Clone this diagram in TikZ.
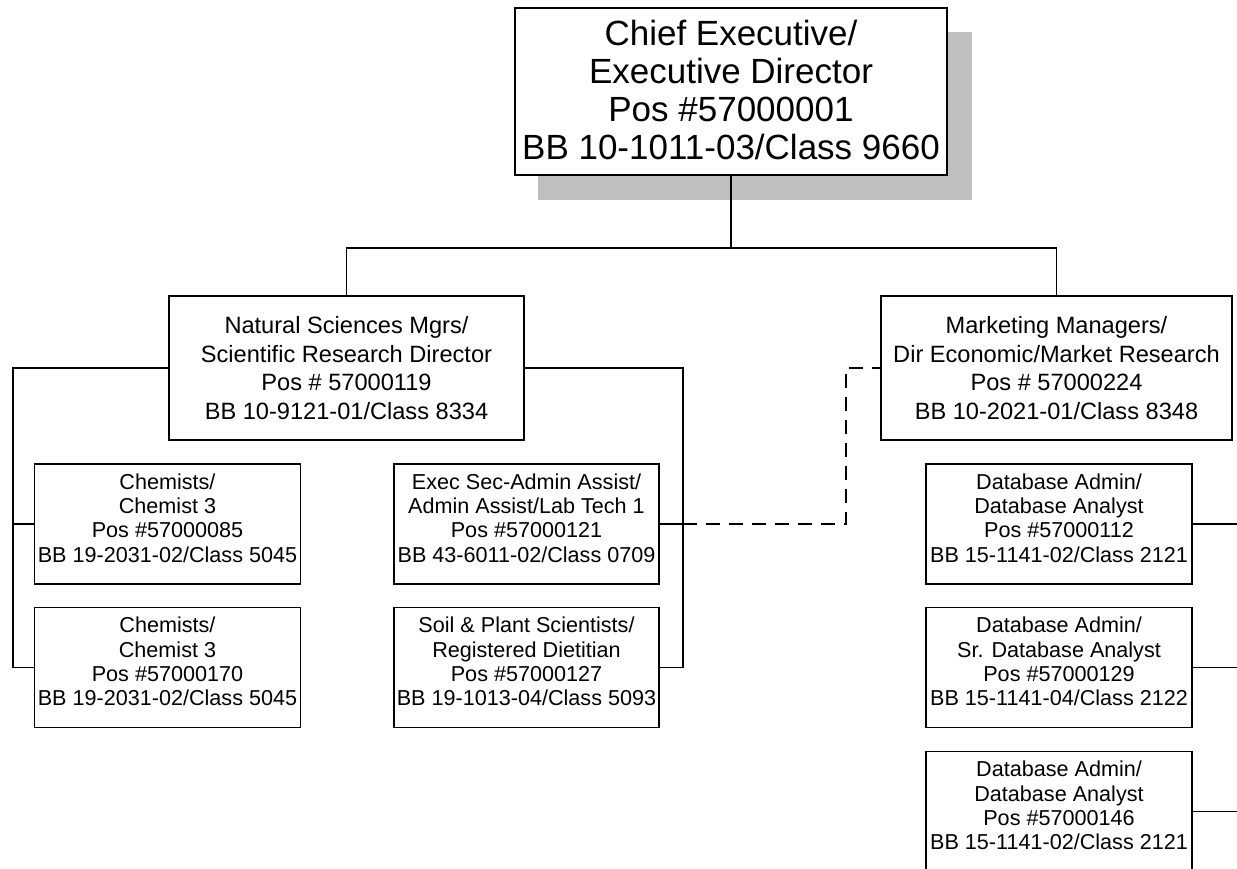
\documentclass[tikz,border=0pt]{standalone}
\usepackage{fontspec}
\setmainfont{Liberation Sans}
\begin{document}
\begin{tikzpicture}[x=1pt,y=-1pt,
  box/.style={draw,line width=1.6pt,fill=white,inner sep=0pt},
  topbox/.style={box,minimum width=432pt,minimum height=167pt},
  midbox/.style={box,minimum width=355pt,minimum height=144pt},
  smallbox/.style={box,minimum width=266pt,minimum height=120pt},
  toptext/.style={align=center,inner sep=0pt,yshift=2pt,font=\fontsize{35}{38}\selectfont},
  midtext/.style={align=center,inner sep=0pt,font=\fontsize{23.6}{28.5}\selectfont},
  smalltext/.style={align=center,inner sep=0pt,yshift=6pt,font=\fontsize{21.6}{24.3}\selectfont},
  link/.style={line width=1.6pt},
  dotlink/.style={line width=1.6pt,dash pattern=on 14pt off 9pt}]
\useasboundingbox (0,0) rectangle (1237,869);
% shadow behind the top box
\fill[gray!50] (538,32) rectangle (972,200);
% boxes
\node[topbox] (ceo) at (731,91.5) {};
\node[midbox] (nsm) at (346.5,368) {};
\node[midbox,minimum width=351pt] (mkt) at (1056.5,368) {};
\node[smallbox] (chem1) at (167.5,524) {};
\node[smallbox] (chem2) at (167.5,667.5) {};
\node[smallbox,minimum width=265pt] (exec) at (526.5,524) {};
\node[smallbox,minimum width=265pt] (soil) at (526.5,667.5) {};
\node[smallbox] (db1) at (1059,524) {};
\node[smallbox] (db2) at (1059,667.5) {};
\node[smallbox] (db3) at (1059,811.5) {};
% box texts
\node[toptext] (ceo-t) at (ceo.center) {Chief Executive/\\Executive Director\\Pos \#57000001\\BB 10-1011-03/Class 9660};
\node[midtext] (nsm-t) at (nsm.center) {Natural Sciences Mgrs/\\Scientific Research Director\\Pos \# 57000119\\BB 10-9121-01/Class 8334};
\node[midtext] (mkt-t) at (mkt.center) {Marketing Managers/\\Dir Economic/Market Research\\Pos \# 57000224\\BB 10-2021-01/Class 8348};
\node[smalltext] (chem1-t) at (chem1.center) {Chemists/\\Chemist 3\\Pos \#57000085\\BB 19-2031-02/Class 5045};
\node[smalltext] (chem2-t) at (chem2.center) {Chemists/\\Chemist 3\\Pos \#57000170\\BB 19-2031-02/Class 5045};
\node[smalltext] (exec-t) at (exec.center) {Exec Sec-Admin Assist/\\Admin Assist/Lab Tech 1\\Pos \#57000121\\BB 43-6011-02/Class 0709};
\node[smalltext] (soil-t) at (soil.center) {Soil \& Plant Scientists/\\Registered Dietitian\\Pos \#57000127\\BB 19-1013-04/Class 5093};
\node[smalltext] (db1-t) at (db1.center) {Database Admin/\\Database Analyst\\Pos \#57000112\\BB 15-1141-02/Class 2121};
\node[smalltext] (db2-t) at (db2.center) {Database Admin/\\Sr. Database Analyst\\Pos \#57000129\\BB 15-1141-04/Class 2122};
\node[smalltext] (db3-t) at (db3.center) {Database Admin/\\Database Analyst\\Pos \#57000146\\BB 15-1141-02/Class 2121};
% reporting lines
\coordinate (bus) at (731,248);
\draw[link] (ceo.south) -- (bus);
\draw[link] (bus) -| (nsm.north);
\draw[link] (bus) -| (mkt.north);
\coordinate (lrail) at (13,368);
\coordinate (rrail) at (683,368);
\draw[link] (nsm.west) -- (lrail) |- (chem2.west);
\draw[link] (lrail |- chem1.west) -- (chem1.west);
\draw[link] (nsm.east) -- (rrail) |- (soil.east);
\draw[link] (rrail |- exec.east) -- (exec.east);
\coordinate (dashcorner) at (846,368);
\draw[dotlink] (exec.east) -| (dashcorner) -- (mkt.west);
\coordinate (out1) at (1237,524);
\coordinate (out2) at (1237,667.5);
\coordinate (out3) at (1237,811.5);
\draw[link] (db1.east) -- (out1);
\draw[link] (db2.east) -- (out2);
\draw[link] (db3.east) -- (out3);
\end{tikzpicture}
\end{document}
